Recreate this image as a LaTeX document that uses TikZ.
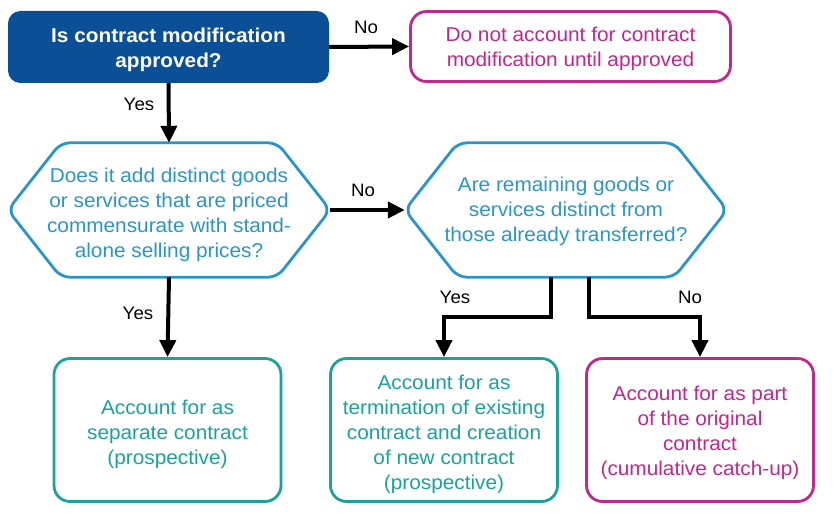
\documentclass[tikz,border=0pt]{standalone}
\usepackage{fontspec}
\setmainfont{Liberation Sans}[FakeStretch=1.04]
\usetikzlibrary{arrows.meta,calc}
\definecolor{navy}{HTML}{0B4F97}
\definecolor{hexblue}{HTML}{2A95C9}
\definecolor{teal}{HTML}{1AA39A}
\definecolor{magenta}{HTML}{C2278D}
\newcommand{\lowr}[1]{\rule{0pt}{#1}}
\begin{document}
\begin{tikzpicture}[x=1pt,y=-1pt,
  txt/.style={font=\fontsize{20}{25}\selectfont, align=center, inner sep=0pt},
  topbox/.style={txt, fill=navy, draw=navy, line width=1pt, rounded corners=12pt, text=white,
    font=\bfseries\fontsize{20}{25}\selectfont, minimum width=320pt, minimum height=71pt},
  outbox/.style={txt, draw=#1, text=#1, line width=2.8pt, rounded corners=16pt, fill=white,
    minimum width=227pt, minimum height=143pt},
  hexnode/.style={txt, text=hexblue, minimum width=322pt, minimum height=134pt},
  hexline/.style={draw=hexblue, line width=2.8pt, rounded corners=9pt},
  arr/.style={line width=4pt, -{Triangle[length=17pt,width=16pt]}},
  lab/.style={font=\fontsize{18}{20}\selectfont, inner sep=0pt}]
\useasboundingbox (0,0) rectangle (834,518);

% nodes
\node[topbox] (q1) at (168.5,47) {\lowr{21pt}Is contract modification\\approved?};
\node[outbox=magenta, minimum width=320pt, minimum height=70pt] (na) at (570.5,46.5)
  {\lowr{19pt}Do not account for contract\\modification until approved};
\node[hexnode] (h1) at (169,210) {\lowr{24pt}Does it add distinct goods\\or services that are priced\\commensurate with stand-\\alone selling prices?};
\node[hexnode] (h2) at (566,210) {\lowr{17pt}Are remaining goods or\\services distinct from\\those already transferred?};
\node[outbox=teal] (b1) at (167.5,430) {\lowr{23pt}Account for as\\separate contract\\(prospective)};
\node[outbox=teal] (b2) at (444,430) {\lowr{23pt}Account for as\\termination of existing\\contract and creation\\of new contract\\(prospective)};
\node[outbox=magenta] (b3) at (700,430) {\lowr{21pt}Account for as part\\of the original\\contract\\(cumulative catch-up)};

% hexagon outlines
\foreach \h in {h1,h2}{
  \draw[hexline] (\h.west) -- ($(\h.north west)+(53,0)$) -- ($(\h.north east)+(-53,0)$)
    -- (\h.east) -- ($(\h.south east)+(-53,0)$) -- ($(\h.south west)+(53,0)$) -- cycle;
}

% connectors
\draw[arr] (q1.east) -- (na.west);
\draw[arr] (q1.south) -- (h1.north);
\draw[arr] (h1.east) -- (h2.west);
\draw[arr] (h1.south) -- (b1.north);
\coordinate (sy) at ($(h2.south)+(-15,0)$);
\coordinate (sn) at ($(h2.south)+(23,0)$);
\draw[arr] (sy) -- ++(0,40) -| (b2.north);
\draw[arr] (sn) -- ++(0,40) -| (b3.north);

% labels
\node[lab] (l1) at (366,27) {No};
\node[lab] (l2) at (139,104) {Yes};
\node[lab] (l3) at (363,190) {No};
\node[lab] (l4) at (138,313) {Yes};
\node[lab] (l5) at (455,297) {Yes};
\node[lab] (l6) at (690,297) {No};
\end{tikzpicture}
\end{document}
